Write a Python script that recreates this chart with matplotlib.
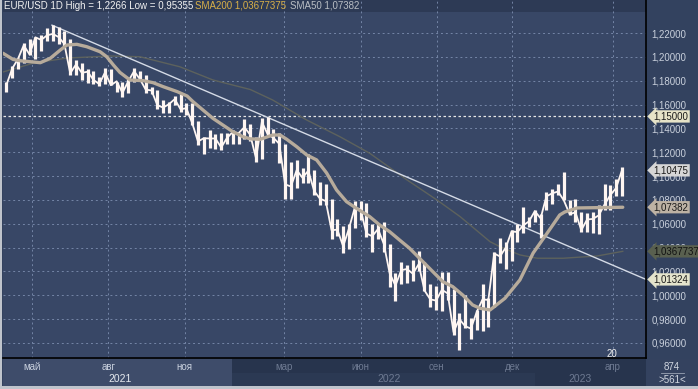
import matplotlib
matplotlib.use("Agg")
import matplotlib.pyplot as plt
import matplotlib.transforms as mtransforms
from matplotlib.patches import Rectangle
from matplotlib.ticker import FixedLocator, FuncFormatter
import pandas as pd

# weekly EUR/USD bars (week starting monday)
week_start = pd.date_range("2021-03-29", periods=107, freq="W-MON")
highs = [
    1.1791, 1.1927, 1.1994, 1.2117, 1.2150, 1.2170, 1.2182, 1.2245, 1.2266, 1.2254,
    1.2218, 1.2150, 1.1975, 1.1945, 1.1895, 1.1880, 1.1830, 1.1909, 1.1900, 1.1790,
    1.1790, 1.1810, 1.1909, 1.1885, 1.1845, 1.1750, 1.1720, 1.1640, 1.1625, 1.1670,
    1.1692, 1.1616, 1.1610, 1.1465, 1.1330, 1.1383, 1.1355, 1.1360, 1.1360, 1.1386,
    1.1365, 1.1482, 1.1440, 1.1330, 1.1484, 1.1495, 1.1395, 1.1360, 1.1270, 1.1121,
    1.1137, 1.1070, 1.1185, 1.1050, 1.0950, 1.0936, 1.0807, 1.0642, 1.0577, 1.0600,
    1.0787, 1.0787, 1.0774, 1.0600, 1.0605, 1.0615, 1.0430, 1.0185, 1.0278, 1.0255,
    1.0294, 1.0369, 1.0275, 1.0090, 1.0080, 1.0198, 1.0197, 1.0050, 0.9853, 0.9999,
    0.9810, 0.9876, 1.0094, 0.9976, 1.0360, 1.0480, 1.0448, 1.0545, 1.0595, 1.0736,
    1.0660, 1.0713, 1.0683, 1.0867, 1.0887, 1.0930, 1.1033, 1.0800, 1.0805, 1.0700,
    1.0690, 1.0700, 1.0760, 1.0930, 1.0925, 1.0975, 1.1075,
]
lows = [
    1.1704, 1.1820, 1.1900, 1.1950, 1.2018, 1.1986, 1.2052, 1.2130, 1.2134, 1.2104,
    1.2094, 1.1847, 1.1848, 1.1807, 1.1781, 1.1772, 1.1752, 1.1770, 1.1760, 1.1705,
    1.1664, 1.1700, 1.1790, 1.1800, 1.1700, 1.1685, 1.1563, 1.1530, 1.1525, 1.1600,
    1.1535, 1.1512, 1.1432, 1.1264, 1.1186, 1.1236, 1.1228, 1.1222, 1.1265, 1.1270,
    1.1272, 1.1313, 1.1290, 1.1121, 1.1140, 1.1340, 1.1280, 1.1106, 1.0806, 1.0806,
    1.0900, 1.0945, 1.0944, 1.0837, 1.0757, 1.0760, 1.0470, 1.0493, 1.0350, 1.0390,
    1.0560, 1.0627, 1.0490, 1.0359, 1.0470, 1.0366, 1.0072, 0.9952, 1.0097, 1.0100,
    1.0123, 1.0200, 1.0035, 0.9900, 0.9878, 0.9864, 0.9956, 0.9668, 0.9536, 0.9725,
    0.9632, 0.9705, 0.9700, 0.9730, 0.9900, 1.0270, 1.0223, 1.0290, 1.0443, 1.0520,
    1.0575, 1.0610, 1.0483, 1.0713, 1.0766, 1.0840, 1.0797, 1.0670, 1.0613, 1.0533,
    1.0533, 1.0524, 1.0516, 1.0712, 1.0713, 1.0830, 1.0830,
]
closes = [
    1.1762, 1.1900, 1.1982, 1.2097, 1.2020, 1.2164, 1.2142, 1.2180, 1.2193, 1.2166,
    1.2108, 1.1862, 1.1936, 1.1866, 1.1875, 1.1807, 1.1771, 1.1870, 1.1762, 1.1795,
    1.1697, 1.1795, 1.1880, 1.1813, 1.1725, 1.1718, 1.1595, 1.1574, 1.1603, 1.1645,
    1.1560, 1.1569, 1.1445, 1.1290, 1.1317, 1.1315, 1.1315, 1.1240, 1.1320, 1.1370,
    1.1360, 1.1410, 1.1345, 1.1148, 1.1455, 1.1350, 1.1320, 1.1270, 1.0930, 1.0912,
    1.1050, 1.0985, 1.1045, 1.0875, 1.0810, 1.0790, 1.0545, 1.0550, 1.0410, 1.0560,
    1.0735, 1.0720, 1.0518, 1.0495, 1.0555, 1.0430, 1.0185, 1.0080, 1.0210, 1.0220,
    1.0180, 1.0260, 1.0040, 0.9965, 0.9955, 1.0045, 1.0015, 0.9690, 0.9800, 0.9740,
    0.9720, 0.9860, 0.9965, 0.9960, 1.0350, 1.0325, 1.0400, 1.0535, 1.0530, 1.0585,
    1.0620, 1.0705, 1.0645, 1.0830, 1.0855, 1.0870, 1.0795, 1.0680, 1.0695, 1.0545,
    1.0635, 1.0640, 1.0670, 1.0760, 1.0840, 1.0900, 1.1048,
]

sma50_dates = [
    "2021-03-27", "2021-04-08", "2021-04-16", "2021-05-11", "2021-05-23", "2021-06-04",
    "2021-06-12", "2021-06-24", "2021-07-06", "2021-07-22", "2021-07-30", "2021-08-07",
    "2021-08-15", "2021-08-27", "2021-09-12", "2021-09-24", "2021-10-06", "2021-10-23",
    "2021-11-04", "2021-11-11", "2021-11-23", "2021-12-05", "2021-12-17", "2021-12-29",
    "2022-01-10", "2022-01-19", "2022-01-31", "2022-02-15", "2022-02-24", "2022-03-04",
    "2022-03-16", "2022-03-28", "2022-04-09", "2022-04-21", "2022-05-03", "2022-05-15",
    "2022-05-27", "2022-06-12", "2022-06-24", "2022-07-06", "2022-07-18", "2022-07-30",
    "2022-08-11", "2022-08-27", "2022-09-08", "2022-09-20", "2022-10-02", "2022-10-14",
    "2022-10-23", "2022-11-04", "2022-11-22", "2022-12-10", "2022-12-26", "2023-01-12",
    "2023-01-27", "2023-02-02", "2023-02-17", "2023-04-13",
]
sma50 = [
    1.2030, 1.1979, 1.1968, 1.1951, 1.1988, 1.2057,
    1.2099, 1.2105, 1.2085, 1.2043, 1.2001, 1.1932,
    1.1869, 1.1806, 1.1800, 1.1783, 1.1750, 1.1708,
    1.1671, 1.1624, 1.1554, 1.1484, 1.1428, 1.1372,
    1.1330, 1.1312, 1.1308, 1.1344, 1.1344, 1.1308,
    1.1246, 1.1177, 1.1135, 1.1026, 1.0883, 1.0785,
    1.0729, 1.0659, 1.0589, 1.0533, 1.0463, 1.0394,
    1.0310, 1.0198, 1.0114, 1.0072, 1.0002, 0.9918,
    0.9890, 0.9876, 0.9974, 1.0128, 1.0354, 1.0522,
    1.0673, 1.0698, 1.0732, 1.0738,
]

sma200_dates = [
    "2021-03-27", "2021-05-02", "2021-06-12", "2021-08-03", "2021-09-08", "2021-10-26",
    "2021-12-05", "2022-01-19", "2022-02-15", "2022-03-28", "2022-05-07", "2022-06-12",
    "2022-07-27", "2022-09-01", "2022-09-29", "2022-11-04", "2022-11-16", "2022-12-10",
    "2022-12-31", "2023-01-31", "2023-03-13", "2023-04-13",
]
sma200 = [
    1.1873, 1.1946, 1.1990, 1.2007, 1.2001, 1.1917,
    1.1806, 1.1726, 1.1638, 1.1470, 1.1330, 1.1191,
    1.0967, 1.0799, 1.0659, 1.0449, 1.0407, 1.0338,
    1.0310, 1.0310, 1.0329, 1.0368,
]

# trend line anchors (date, price)
trend_dates = ["2021-05-25", "2023-05-11"]
trend_vals = [1.2266, 1.01324]

level = 1.15
y_ticks = [0.96, 0.98, 1.00, 1.02, 1.04, 1.06, 1.08, 1.10, 1.12, 1.14, 1.16, 1.18, 1.20, 1.22]
month_dates = ["2021-05-01", "2021-08-01", "2021-11-01", "2022-03-01",
               "2022-06-01", "2022-09-01", "2022-12-01", "2023-04-01"]
month_labels = ["май", "авг", "ноя", "мар", "июн", "сен", "дек", "апр"]
year_dates = ["2021-08-15", "2022-07-05", "2023-02-20"]
year_labels = ["2021", "2022", "2023"]

tags = [
    ("1,15000", 1.15, "#e6e3c8", "#1a1a1a"),
    ("1,10475", 1.10475, "#d6d6d6", "#1a1a1a"),
    ("1,07382", 1.07382, "#bdb2a4", "#1a1a1a"),
    ("1,03677375", 1.03677375, "#59604f", "#111111"),
    ("1,01324", 1.01324, "#e4e4cc", "#1a1a1a"),
]

plt.rcParams["font.family"] = ["Liberation Sans", "DejaVu Sans"]

W, H = 698, 389
bg = "#384766"
fig = plt.figure(figsize=(W / 100, H / 100), dpi=100, facecolor="#33425f")


def fx(px):
    return px / W


def fy(py):
    return 1 - py / H


ax = fig.add_axes([fx(3), fy(358), fx(646) - fx(3), fy(0) - fy(358)])
ax.set_facecolor(bg)

x0 = pd.Timestamp("2021-03-27")
x1 = pd.Timestamp("2023-05-11")
ax.set_xlim(x0, x1)
ax.set_ylim(0.9473, 1.2477)

# header strip
ax.add_patch(Rectangle((0, 1 - 12 / 358), 1, 12 / 358, transform=ax.transAxes,
                       facecolor="#2d3a55", edgecolor="none", zorder=0.5))

grid_kw = dict(color="#7485a6", lw=0.7, ls=(0, (2, 3)), zorder=0.8)
for v in y_ticks:
    ax.axhline(v, **grid_kw)
for d in month_dates:
    ax.axvline(pd.Timestamp(d), **grid_kw)

ax.axhline(level, color="#e8e8e8", lw=0.9, ls=(0, (2, 2)), zorder=1)

ax.plot(pd.to_datetime(sma200_dates), sma200, color="#5d625d", lw=1.0, zorder=2)
ax.plot(pd.to_datetime(trend_dates), trend_vals, color="#d5dbe6", lw=1.0, zorder=2.5)

mid = week_start + pd.Timedelta(days=2)
ax.vlines(mid, lows, highs, color="#fff6f2", lw=2.3, zorder=3)
ax.plot(mid, closes, color="#fff6f2", lw=1.3, zorder=3)

ax.plot(pd.to_datetime(sma50_dates), sma50, color="#b7ab9b", lw=2.4, zorder=4,
        solid_capstyle="round")

for s in ["top", "left"]:
    ax.spines[s].set_visible(False)
ax.spines["right"].set_color("black")
ax.spines["bottom"].set_color("black")
ax.spines["right"].set_linewidth(1.2)
ax.spines["bottom"].set_linewidth(1.2)

ax.set_xticks([])
ax.yaxis.tick_right()
ax.yaxis.set_major_locator(FixedLocator(y_ticks))
ax.yaxis.set_major_formatter(FuncFormatter(lambda v, p: f"{v:.5f}".replace(".", ",")))
ax.tick_params(axis="y", length=0, pad=4, labelsize=7, labelcolor="#c9d0dc")

# value tags on the right axis
ytr = mtransforms.blended_transform_factory(ax.transAxes, ax.transData)
for txt, val, fc, tc in tags:
    ax.text(1.012, val, txt, transform=ytr, ha="left", va="center", fontsize=7,
            color=tc, zorder=6, clip_on=False,
            bbox=dict(boxstyle="larrow,pad=0.12", fc=fc, ec="none"))

# header text
fig.text(fx(4), fy(6), "EUR/USD 1D High = 1,2266 Low = 0,95355", fontsize=7,
         color="#f2f2f2", va="center", ha="left")
fig.text(fx(195), fy(6), "SMA200 1,03677375", fontsize=7, color="#d8b048",
         va="center", ha="left")
fig.text(fx(290), fy(6), "SMA50 1,07382", fontsize=7, color="#b9bec4",
         va="center", ha="left")


# bottom time bar, drawn underneath the axes artists
def band(xa, xb, ya, yb, color):
    fig.add_artist(Rectangle((fx(xa), fy(yb)), fx(xb) - fx(xa), fy(ya) - fy(yb),
                             transform=fig.transFigure, facecolor=color,
                             edgecolor="none", zorder=-1))


band(3, 232, 359, 386, "#3e4c6a")
band(232, 646, 359, 386, "#27344d")
band(232, 535, 373, 386, "#2b3953")
band(647, 698, 359, 386, "#34425f")
band(0, 2, 0, 389, "#bfc4cc")
band(0, 698, 386, 389, "#bfc4cc")

xtr = mtransforms.blended_transform_factory(ax.transData, fig.transFigure)
split = pd.Timestamp("2022-01-20")
for d, lab in zip(month_dates, month_labels):
    c = "#c9d1de" if pd.Timestamp(d) < split else "#6e7a92"
    ax.text(pd.Timestamp(d), fy(367), lab, transform=xtr, ha="center", va="center",
            fontsize=7, color=c, clip_on=False)
for d, lab in zip(year_dates, year_labels):
    c = "#e6eaf0" if pd.Timestamp(d) < split else "#6e7a92"
    ax.text(pd.Timestamp(d), fy(379), lab, transform=xtr, ha="center", va="center",
            fontsize=7.5, color=c, clip_on=False)

fig.text(fx(612), fy(354), "20", fontsize=7, color="#f0f0f0", ha="center", va="center")
fig.text(fx(672), fy(367), "874", fontsize=7, color="#d0d6e0", ha="center", va="center")
fig.add_artist(plt.Line2D([fx(661), fx(684)], [fy(373), fy(373)], color="#9aa4b4", lw=0.6))
fig.text(fx(672), fy(380), ">561<", fontsize=7, color="#d0d6e0", ha="center", va="center")

fig.savefig("out.png", dpi=100, facecolor=fig.get_facecolor())
